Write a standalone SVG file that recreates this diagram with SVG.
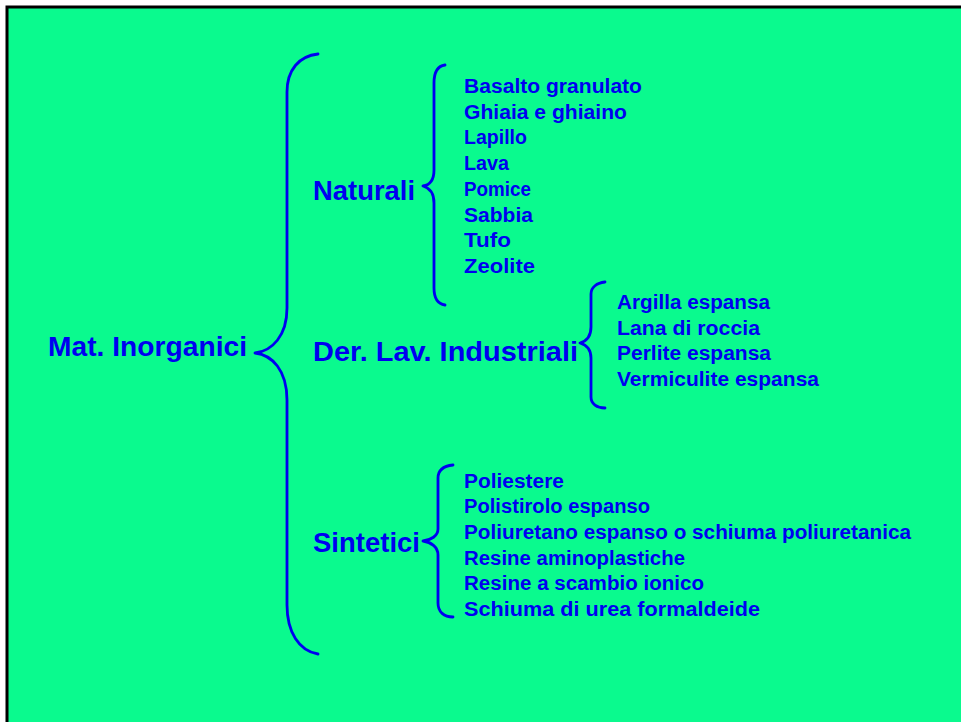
<svg xmlns="http://www.w3.org/2000/svg" width="961" height="722" viewBox="0 0 961 722">
<style>
.bg{fill:#0AFA8E;stroke:#000;stroke-width:3}
.brace{fill:none;stroke:#0000F0;stroke-width:2.8;stroke-linecap:round;stroke-linejoin:round}
.h{font-family:"Liberation Sans",Arial,sans-serif;font-weight:bold;font-size:27px;fill:#0000F0}
.i{font-family:"Liberation Sans",Arial,sans-serif;font-weight:bold;font-size:20px;fill:#0000F0}
</style>
<rect x="0" y="0" width="961" height="722" fill="#fff"/>
<rect class="bg" x="7" y="7" width="1000" height="1000"/>
<g id="connectors">
<path class="brace" d="M318,54 C299,56 287,70 287,92 L287,308 C287,336 272,351 255,353 C272,355 287,370 287,400 L287,605 C287,632 299,651 318,654"/>
<path class="brace" d="M445,65 C438,66 434,72 434,83 L434,170 C434,180 430,185 423,186 C430,188 434,193 434,203 L434,288 C434,299 438,304 445,305"/>
<path class="brace" d="M605,282 C597,283 591,287 591,294 L591,327 C591,336 587,341 580,343 C587,345 591,349 591,358 L591,397 C591,404 597,408 605,408"/>
<path class="brace" d="M453,465 C444,466 438,470 438,478 L438,529 C438,536 431,540 423,541 C431,542 438,547 438,555 L438,603 C438,612 444,617 453,617"/>
</g>
<g id="root"><text class="h" x="48" y="356" textLength="199" lengthAdjust="spacingAndGlyphs">Mat. Inorganici</text></g>
<g id="naturali"><text class="h" x="313" y="200" textLength="102" lengthAdjust="spacingAndGlyphs">Naturali</text></g>
<g id="derivati"><text class="h" x="313" y="361" textLength="265" lengthAdjust="spacingAndGlyphs">Der. Lav. Industriali</text></g>
<g id="sintetici"><text class="h" x="313" y="552" textLength="107" lengthAdjust="spacingAndGlyphs">Sintetici</text></g>
<g id="naturali-items">
<text class="i" x="464" y="93" textLength="178" lengthAdjust="spacingAndGlyphs">Basalto granulato</text>
<text class="i" x="464" y="118.7" textLength="163" lengthAdjust="spacingAndGlyphs">Ghiaia e ghiaino</text>
<text class="i" x="464" y="144.4" textLength="63" lengthAdjust="spacingAndGlyphs">Lapillo</text>
<text class="i" x="464" y="170.1" textLength="45" lengthAdjust="spacingAndGlyphs">Lava</text>
<text class="i" x="464" y="195.8" textLength="67" lengthAdjust="spacingAndGlyphs">Pomice</text>
<text class="i" x="464" y="221.5" textLength="69" lengthAdjust="spacingAndGlyphs">Sabbia</text>
<text class="i" x="464" y="247.2" textLength="47" lengthAdjust="spacingAndGlyphs">Tufo</text>
<text class="i" x="464" y="272.9" textLength="71" lengthAdjust="spacingAndGlyphs">Zeolite</text>
</g>
<g id="derivati-items">
<text class="i" x="617" y="309" textLength="153" lengthAdjust="spacingAndGlyphs">Argilla espansa</text>
<text class="i" x="617" y="334.7" textLength="143" lengthAdjust="spacingAndGlyphs">Lana di roccia</text>
<text class="i" x="617" y="360.4" textLength="154" lengthAdjust="spacingAndGlyphs">Perlite espansa</text>
<text class="i" x="617" y="386.1" textLength="202" lengthAdjust="spacingAndGlyphs">Vermiculite espansa</text>
</g>
<g id="sintetici-items">
<text class="i" x="464" y="487.5" textLength="100" lengthAdjust="spacingAndGlyphs">Poliestere</text>
<text class="i" x="464" y="513.2" textLength="186" lengthAdjust="spacingAndGlyphs">Polistirolo espanso</text>
<text class="i" x="464" y="538.9" textLength="447" lengthAdjust="spacingAndGlyphs">Poliuretano espanso o schiuma poliuretanica</text>
<text class="i" x="464" y="564.6" textLength="221" lengthAdjust="spacingAndGlyphs">Resine aminoplastiche</text>
<text class="i" x="464" y="590.3" textLength="240" lengthAdjust="spacingAndGlyphs">Resine a scambio ionico</text>
<text class="i" x="464" y="616" textLength="296" lengthAdjust="spacingAndGlyphs">Schiuma di urea formaldeide</text>
</g>
</svg>
